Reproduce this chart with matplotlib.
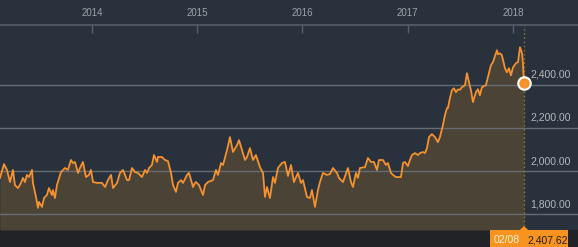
#!/usr/bin/env python3
"""
Dark-theme index chart, Feb 2013 - Feb 2018, with latest value marker
"""

import matplotlib.pyplot as plt
import matplotlib.transforms as mtransforms
from matplotlib.patches import Rectangle, Polygon

# Data: decimal year and index level
years = [
    2013.126, 2013.164, 2013.192, 2013.221, 2013.249, 2013.268, 2013.297, 2013.325,
    2013.344, 2013.363, 2013.382, 2013.401, 2013.430, 2013.439, 2013.468, 2013.487,
    2013.496, 2013.525, 2013.544, 2013.572, 2013.591, 2013.620, 2013.629, 2013.648,
    2013.667, 2013.705, 2013.743, 2013.772, 2013.800, 2013.819, 2013.838, 2013.867,
    2013.886, 2013.914, 2013.943, 2013.971, 2013.990, 2014.010, 2014.048, 2014.076,
    2014.095, 2014.124, 2014.152, 2014.181, 2014.200, 2014.238, 2014.266, 2014.295,
    2014.333, 2014.352, 2014.380, 2014.409, 2014.437, 2014.475, 2014.504, 2014.523,
    2014.542, 2014.570, 2014.589, 2014.618, 2014.627, 2014.665, 2014.694, 2014.722,
    2014.751, 2014.770, 2014.798, 2014.817, 2014.846, 2014.865, 2014.903, 2014.922,
    2014.960, 2014.979, 2014.988, 2015.017, 2015.055, 2015.074, 2015.102, 2015.150,
    2015.178, 2015.197, 2015.226, 2015.245, 2015.283, 2015.311, 2015.340, 2015.378,
    2015.397, 2015.425, 2015.454, 2015.473, 2015.501, 2015.530, 2015.558, 2015.596,
    2015.625, 2015.644, 2015.663, 2015.691, 2015.720, 2015.739, 2015.767, 2015.805,
    2015.834, 2015.862, 2015.891, 2015.919, 2015.957, 2015.986, 2016.005, 2016.043,
    2016.071, 2016.090, 2016.119, 2016.147, 2016.166, 2016.195, 2016.233, 2016.261,
    2016.290, 2016.328, 2016.347, 2016.385, 2016.432, 2016.461, 2016.480, 2016.508,
    2016.527, 2016.546, 2016.594, 2016.622, 2016.651, 2016.679, 2016.708, 2016.727,
    2016.765, 2016.793, 2016.812, 2016.841, 2016.860, 2016.888, 2016.917, 2016.936,
    2016.955, 2016.974, 2017.002, 2017.021, 2017.040, 2017.069, 2017.097, 2017.116,
    2017.145, 2017.164, 2017.183, 2017.202, 2017.230, 2017.259, 2017.287, 2017.306,
    2017.335, 2017.354, 2017.373, 2017.382, 2017.401, 2017.420, 2017.439, 2017.458,
    2017.477, 2017.496, 2017.515, 2017.544, 2017.563, 2017.582, 2017.601, 2017.620,
    2017.648, 2017.667, 2017.686, 2017.705, 2017.743, 2017.762, 2017.791, 2017.810,
    2017.848, 2017.857, 2017.876, 2017.895, 2017.924, 2017.943, 2017.962, 2017.981,
    2018.000, 2018.029, 2018.048, 2018.067, 2018.086, 2018.095, 2018.105,
]
values = [
    1968, 2032, 2005, 1949, 2005, 1935, 1921, 1945,
    1968, 1949, 1982, 1972, 2005, 1945, 1880, 1829,
    1857, 1834, 1875, 1889, 1921, 1889, 1912, 1875,
    1935, 1995, 2014, 2005, 2051, 2037, 2042, 1991,
    2014, 2042, 1972, 1982, 2005, 1949, 1945, 1945,
    1945, 1926, 1958, 1982, 1921, 1945, 1991, 2005,
    1958, 1958, 2014, 1995, 1991, 1972, 2005, 1991,
    2014, 2028, 2074, 2042, 2065, 2065, 2051, 2046,
    1991, 1935, 1903, 1945, 1958, 1945, 1982, 1991,
    1926, 1945, 1949, 1935, 1889, 1935, 1949, 1958,
    2005, 1982, 2037, 2028, 2097, 2157, 2088, 2120,
    2143, 2097, 2051, 2065, 2106, 2051, 2074, 2018,
    1991, 1880, 1926, 1875, 1972, 1945, 2014, 2037,
    2042, 1977, 2028, 1949, 1991, 1945, 1958, 1880,
    1875, 1912, 1834, 1912, 1949, 1991, 1982, 1986,
    2014, 1991, 1968, 1949, 2014, 1949, 1926, 1991,
    1968, 2014, 2018, 2060, 2042, 2042, 2005, 2051,
    2051, 2028, 2037, 1991, 1982, 1972, 1972, 1972,
    2037, 2042, 2023, 2051, 2074, 2083, 2074, 2083,
    2088, 2083, 2106, 2157, 2171, 2157, 2134, 2157,
    2213, 2259, 2291, 2291, 2337, 2374, 2383, 2365,
    2378, 2376, 2388, 2397, 2453, 2411, 2374, 2319,
    2365, 2379, 2351, 2388, 2397, 2434, 2490, 2504,
    2559, 2541, 2545, 2536, 2476, 2457, 2476, 2443,
    2480, 2499, 2504, 2573, 2545, 2499, 2407.62,
]

year_ticks = [2014, 2015, 2016, 2017, 2018]
year_labels = ['2014', '2015', '2016', '2017', '2018']
level_ticks = [1800, 2000, 2200, 2400]
last_date_label = '02/08'

# Colours
bg = '#29313c'
footer = '#212327'
fill = '#4b4336'
orange = '#f5922f'
grid = '#666c74'
text_col = '#b4b8bd'

plt.rcParams['font.family'] = ['Liberation Sans', 'DejaVu Sans']


def main():
    fig = plt.figure(figsize=(5.78, 2.47), dpi=100)
    fig.patch.set_facecolor(bg)

    # footer strip under the plot
    fig.add_artist(Rectangle((0, 0), 1, 17 / 247, transform=fig.transFigure,
                             facecolor=footer, edgecolor='none', zorder=0))

    ax = fig.add_axes([0, 17 / 247, 1, 205 / 247])
    ax.set_facecolor(bg)
    ax.set_xlim(2013.126, 2018.618)
    ax.set_ylim(1727, 2676)

    # area + line
    ax.fill_between(years, values, 1727, color=fill, linewidth=0, zorder=1)
    for v in level_ticks:
        ax.axhline(v, color=grid, lw=1, zorder=2)
    ax.plot(years, values, color=orange, lw=1.3, zorder=3, solid_joinstyle='round')

    # current date marker
    ax.axvline(years[-1], color='#8e7d3a', lw=1, ls=(0, (1, 2)), zorder=2)
    ax.plot(years[-1], values[-1], 'o', ms=9, mfc=orange, mec='white', mew=1.5, zorder=4)

    # level labels, sitting above the gridlines at the right edge
    trans_y = mtransforms.blended_transform_factory(ax.transAxes, ax.transData)
    for v in level_ticks:
        ax.annotate(f'{v:,.2f}', xy=(1, v), xycoords=trans_y, xytext=(-5, 3.5),
                    textcoords='offset points', ha='right', va='bottom',
                    fontsize=7.5, color=text_col, zorder=5)

    # year axis on top
    ax.xaxis.tick_top()
    ax.set_xticks(year_ticks)
    ax.set_xticklabels(year_labels)
    ax.tick_params(axis='x', direction='in', length=6, width=1, color='#58606b',
                   labelcolor='#9ea3a9', labelsize=7, pad=5)
    ax.set_yticks([])
    for side in ['left', 'right', 'bottom']:
        ax.spines[side].set_visible(False)
    ax.spines['top'].set_color('#4e5661')
    ax.spines['top'].set_linewidth(1.5)

    # latest value tag in the footer
    trans_x = mtransforms.blended_transform_factory(ax.transData, fig.transFigure)
    x0 = years[-1]
    fig.add_artist(Rectangle((x0 - 0.32, 0), 0.74, 17 / 247, transform=trans_x,
                             facecolor='#f7931e', edgecolor='none', zorder=5))
    fig.add_artist(Polygon([(x0 - 0.04, 17 / 247), (x0 + 0.04, 17 / 247), (x0, 21 / 247)],
                           closed=True, transform=trans_x, facecolor='#f7931e',
                           edgecolor='none', zorder=5))
    fig.text(x0 - 0.04, 7 / 247, last_date_label, transform=trans_x, ha='right', va='center',
             fontsize=7.5, color='#fff1de', zorder=6)
    fig.text(x0 + 0.03, 7 / 247, f'{values[-1]:,.2f}', transform=trans_x, ha='left', va='center',
             fontsize=7.5, color='#1e1e1e', zorder=6)

    plt.savefig('out.png', dpi=100, facecolor=fig.get_facecolor())


if __name__ == "__main__":
    main()
